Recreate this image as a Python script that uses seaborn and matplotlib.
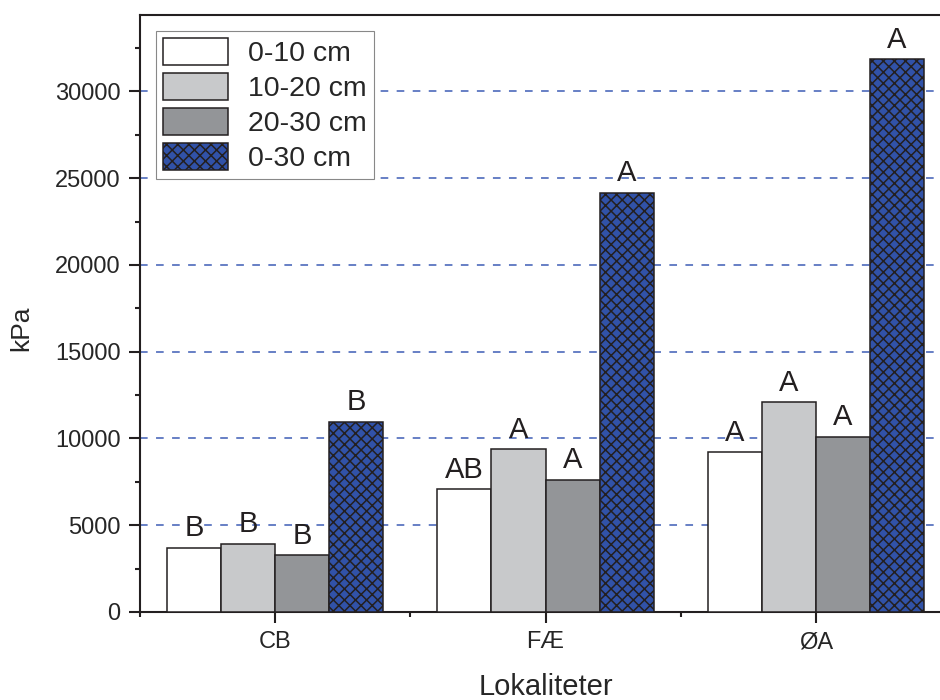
import pandas as pd
import numpy as np
import matplotlib
matplotlib.use('Agg')
import matplotlib.pyplot as plt
import seaborn as sns
from matplotlib.patches import Patch
from matplotlib.ticker import MultipleLocator

# data
lokaliteter = ['CB', 'FÆ', 'ØA']
dybder = ['0-10 cm', '10-20 cm', '20-30 cm', '0-30 cm']
kpa_0_10 = [3690, 7070, 9200]
kpa_10_20 = [3930, 9370, 12090]
kpa_20_30 = [3280, 7620, 10100]
kpa_0_30 = [10960, 24150, 31850]
bokstaver_0_10 = ['B', 'AB', 'A']
bokstaver_10_20 = ['B', 'A', 'A']
bokstaver_20_30 = ['B', 'A', 'A']
bokstaver_0_30 = ['B', 'A', 'A']
y_ticks = [0, 5000, 10000, 15000, 20000, 25000, 30000]

farger = ['#ffffff', '#c8c9cb', '#939598', '#3152a8']
kant = '#231f20'

verdier = [kpa_0_10, kpa_10_20, kpa_20_30, kpa_0_30]
bokstaver = [bokstaver_0_10, bokstaver_10_20, bokstaver_20_30, bokstaver_0_30]

df = pd.DataFrame({
    'Lokalitet': lokaliteter * len(dybder),
    'Dybde': np.repeat(dybder, len(lokaliteter)),
    'kPa': np.concatenate(verdier),
})

sns.set_style('ticks')
plt.rcParams['font.family'] = ['Liberation Sans', 'DejaVu Sans']
plt.rcParams['hatch.color'] = '#1c1c2c'
plt.rcParams['hatch.linewidth'] = 1.1

fig = plt.figure(figsize=(9.4, 7), dpi=100)
ax = fig.add_axes([140 / 940, 88 / 700, 811 / 940, 597 / 700])

sns.barplot(data=df, x='Lokalitet', y='kPa', hue='Dybde', order=lokaliteter,
            hue_order=dybder, palette=farger, saturation=1, errorbar=None,
            edgecolor=kant, linewidth=1.1, legend=False, ax=ax, zorder=3)

# 0-30 cm har kryssraster
for bar in ax.containers[3]:
    bar.set_hatch('xxx')

for cont, lab in zip(ax.containers, bokstaver):
    ax.bar_label(cont, labels=lab, padding=4, fontsize=21, color='#231f20')

ax.set_xlim(-0.5, 2.5)
ax.set_ylim(0, 34400)
ax.set_yticks(y_ticks)
ax.set_yticklabels([str(t) for t in y_ticks])
ax.yaxis.set_minor_locator(MultipleLocator(2500))
ax.set_xticks([-0.5, 0.5, 1.5, 2.5], minor=True)

ax.yaxis.grid(True, which='major', linestyle=(0, (5, 5.5)), color='#3d5db5', linewidth=1.1)
ax.set_axisbelow(True)

for s in ax.spines.values():
    s.set_visible(True)
    s.set_linewidth(1.5)
    s.set_color('#231f20')

ax.tick_params(axis='both', which='major', direction='out', length=8, width=1.5,
               labelsize=17, pad=6, color='#231f20')
ax.tick_params(axis='both', which='minor', direction='out', length=3.8, width=1.5,
               color='#231f20')

ax.set_xlabel('Lokaliteter', fontsize=21, labelpad=14)
ax.set_ylabel('kPa', fontsize=19)
ax.yaxis.set_label_coords(-0.132, 0.475)

handles = [Patch(facecolor=farger[i], edgecolor=kant, linewidth=1.1,
                 hatch='xxx' if i == 3 else None) for i in range(len(dybder))]
leg = ax.legend(handles, dybder, loc='upper left', fontsize=20.5, frameon=True,
                fancybox=False, framealpha=1, edgecolor='#888888',
                handlelength=2.3, handleheight=1.1, handletextpad=0.7,
                labelspacing=0.2, borderpad=0.25, borderaxespad=0.55)
leg.get_frame().set_linewidth(0.8)
leg.set_zorder(5)

fig.savefig('out.png', dpi=100)
